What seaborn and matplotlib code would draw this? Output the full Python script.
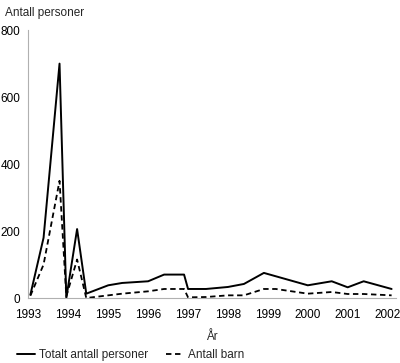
import pandas as pd
import seaborn as sns
import matplotlib.pyplot as plt

# --- data ---
years_total = [1993.05, 1993.38, 1993.78, 1993.95, 1994.22, 1994.45, 1995.0, 1995.35,
               1996.0, 1996.4, 1996.9, 1997.0, 1997.45, 1998.0, 1998.4, 1998.9,
               2000.0, 2000.6, 2001.0, 2001.4, 2002.1]
total = [10, 180, 700, 0, 206, 13, 38, 45,
         50, 70, 70, 27, 27, 33, 42, 75,
         38, 50, 32, 50, 27]

years_barn = [1993.05, 1993.38, 1993.78, 1993.95, 1994.22, 1994.45, 1995.0, 1995.35,
              1996.0, 1996.4, 1996.9, 1997.0, 1997.45, 1998.0, 1998.4, 1998.9,
              1999.2, 2000.0, 2000.6, 2001.0, 2001.4, 2002.1]
barn = [7, 100, 350, 5, 115, 0, 8, 13,
        20, 27, 27, 2, 3, 8, 8, 27,
        27, 13, 18, 12, 12, 8]

year_ticks = list(range(1993, 2003))
y_ticks = [0, 200, 400, 600, 800]

df_total = pd.DataFrame({"year": years_total, "value": total})
df_barn = pd.DataFrame({"year": years_barn, "value": barn})

sns.set_style("white")
plt.rcParams["font.family"] = ["Liberation Sans", "DejaVu Sans"]
plt.rcParams["font.size"] = 8.5

fig = plt.figure(figsize=(4.0, 3.63), dpi=100)
ax = fig.add_axes([0.071, 0.179, 0.918, 0.738])

sns.lineplot(data=df_total, x="year", y="value", ax=ax, color="black",
             linewidth=1.4, label="Totalt antall personer")
sns.lineplot(data=df_barn, x="year", y="value", ax=ax, color="black",
             linewidth=1.3, linestyle=(0, (3, 2)), label="Antall barn")

ax.set_xlim(1993, 2002.2)
ax.set_ylim(0, 800)
ax.set_xticks(year_ticks)
ax.set_xticklabels([str(y) for y in year_ticks])
ax.set_yticks(y_ticks)

for side in ["top", "right"]:
    ax.spines[side].set_visible(False)
for side in ["left", "bottom"]:
    ax.spines[side].set_color("#b0b0b0")
    ax.spines[side].set_linewidth(0.8)
ax.tick_params(axis="both", colors="#b0b0b0", labelcolor="black",
               width=0.8, labelsize=8.5)
ax.tick_params(axis="x", length=3, pad=5)
ax.tick_params(axis="y", length=4, pad=2)

ax.set_xlabel("År", fontsize=8.5, labelpad=7)
ax.set_ylabel("")
fig.text(0.012, 0.965, "Antall personer", fontsize=8.5, ha="left", va="center")

ax.get_legend().remove()
handles, labels = ax.get_legend_handles_labels()
fig.legend(handles, labels, loc="center left", bbox_to_anchor=(0.042, 0.022),
           ncol=2, frameon=False, fontsize=8.5, handlelength=1.5,
           columnspacing=1.5, handletextpad=0.4, borderaxespad=0, borderpad=0)

fig.savefig("out.png", dpi=100)
